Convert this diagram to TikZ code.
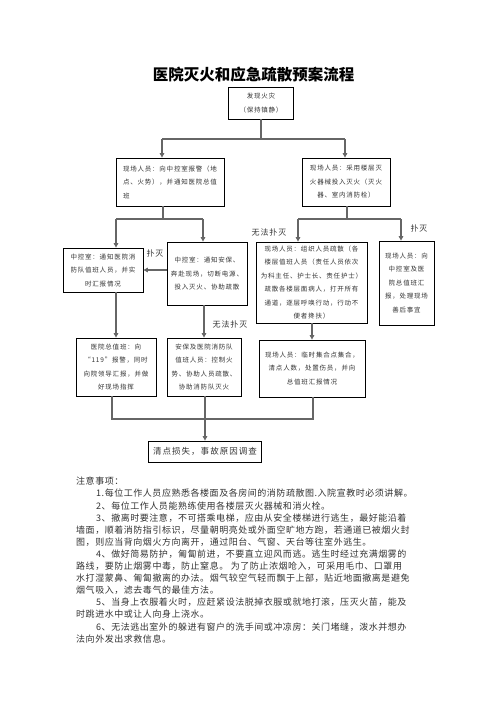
\documentclass[tikz,border=0pt]{standalone}
\usepackage{fontspec}
\setmainfont{Noto Sans CJK SC}
\newfontfamily\boxfont[LetterSpace=12]{Noto Sans CJK SC}
\newfontfamily\notefont[LetterSpace=6]{Noto Sans CJK SC}
\usetikzlibrary{arrows.meta}
\tikzstyle{bx}=[draw,line width=0.8pt,inner sep=1pt,align=center,text=black!80,font={\boxfont\fontsize{6.5}{13.5}\selectfont}]
\tikzstyle{ln}=[line width=1.3pt,draw=black!60]
\tikzstyle{ar}=[ln,-{Triangle[length=4.5pt,width=4.5pt]}]
\tikzstyle{lb}=[inner sep=0,text=black!80,font={\boxfont\fontsize{8}{10}\selectfont}]

\begin{document}
\begin{tikzpicture}[x=1pt,y=-1pt]
\useasboundingbox[fill=white] (0,0) rectangle (496,702);

	\node[inner sep=0,font={\fontsize{15.5}{18}\selectfont\bfseries}] (t) at (253.5,75) {医院灭火和应急疏散预案流程};

                        \node[bx,minimum width=65pt,minimum height=32pt] (a) at (261,103) {发现火灾\\（保持镇静）};
                        \node[bx,align=left,minimum width=108pt,minimum height=48pt] (b) at (170,182) {现场人员：向中控室报警（地\\点、火势），并通知医院总值\\班};
                        \node[bx,minimum width=88pt,minimum height=48pt] (c) at (346,182) {现场人员：采用楼层灭\\火器械投入灭火（灭火\\器、室内消防栓）};

                        \node[bx,minimum width=80pt,minimum height=44pt] (d) at (103,270) {中控室：通知医院消\\防队值班人员，并实\\时汇报情况};
                        \node[bx,minimum width=80pt,minimum height=63pt] (e) at (207,273.5) {中控室：通知安保、\\奔赴现场，切断电源、\\投入灭火、协助疏散};
                        \node[bx,minimum width=111pt,minimum height=81pt] (f) at (311.5,282.5) {现场人员：组织人员疏散（各\\楼层值班人员（责任人员依次\\为科主任、护士长、责任护士）\\疏散各楼层面病人，打开所有\\通道，逐层呼唤行动，行动不\\便者搀扶）};
                        \node[bx,minimum width=55pt,minimum height=84pt] (g) at (406.5,283) {现场人员：向\\中控室及医\\院总值班汇\\报，处理现场\\善后事宜};

                        \node[bx,minimum width=80pt,minimum height=58pt] (h) at (116,367) {医院总值班：向\\“119”报警，同时\\向院领导汇报，并做\\好现场指挥};
                        \node[bx,minimum width=74pt,minimum height=58pt] (i) at (204,367) {安保及医院消防队\\值班人员：控制火\\势、协助人员疏散、\\协助消防队灭火};
                        \node[bx,minimum width=106pt,minimum height=57pt] (j) at (312,368.5) {现场人员：临时集合点集合，\\清点人数，处置伤员，并向\\总值班汇报情况};

                        \node[bx,font={\boxfont\fontsize{8.5}{10}\selectfont},minimum width=113pt,minimum height=21pt] (k) at (205,451.5) {清点损失，事故原因调查};

                        \node[lb] (l1) at (155,253) {扑灭};
                        \node[lb] (l2) at (269,232) {无法扑灭};
                        \node[lb] (l3) at (419,228) {扑灭};
                        \node[lb] (l4) at (230,324) {无法扑灭};

                        \coordinate (s1) at (261,139);
                        \coordinate (s1l) at (162,139);
                        \coordinate (s1r) at (345,139);
                        \coordinate (s2) at (163,219);
                        \coordinate (s2l) at (116,219);
                        \coordinate (s2r) at (203,219);
                        \coordinate (s3) at (347,219);
                        \coordinate (s3l) at (298,219);
                        \coordinate (s3r) at (401,219);
                        \coordinate (m1) at (112,419);
                        \coordinate (m2) at (205,419);
                        \coordinate (m3) at (313,419);

                        \draw[ln]
                        (a) -- (s1)
                        (s1l) -- (s1r)
                        (s2 |- b.south) -- (s2)
                        (s2l) -- (s2r)
                        (s3 |- c.south) -- (s3)
                        (s3l) -- (s3r)
                        (m1 |- h.south) -- (m1) -- (m3) -- (m3 |- j.south)
                        (m2 |- i.south) -- (m2)
                        ;

                        \draw[ar] (s1l) -- (s1l |- b.north);
                        \draw[ar] (s1r) -- (s1r |- c.north);
                        \draw[ar] (s2l) -- (s2l |- d.north);
                        \draw[ar] (s2r) -- (s2r |- e.north);
                        \draw[ar] (s3l) -- (s3l |- f.north);
                        \draw[ar] (s3r) -- (s3r |- g.north);
                        \draw[ar] (e.west |- d) -- (d.east);
                        \draw[ar] (d.south -| h) -- (h.north);
                        \draw[ar] (e.south -| i) -- (i.north);
                        \draw[ar] (f.south -| j) -- (j.north);
                        \draw[ar] (m2) -- (k.north);

                        \node[anchor=north west,inner sep=0,align=left,text=black!80,font={\notefont\fontsize{9}{12.1}\selectfont}] (n) at (76,477) {注意事项：\\
\hspace*{20pt}1.每位工作人员应熟悉各楼面及各房间的消防疏散图.入院宣教时必须讲解。\\
\hspace*{20pt}2、每位工作人员能熟练使用各楼层灭火器械和消火栓。\\
\hspace*{20pt}3、撤离时要注意，不可搭乘电梯，应由从安全楼梯进行逃生，最好能沿着\\
墙面，顺着消防指引标识，尽量朝明亮处或外面空旷地方跑，若通道已被烟火封\\
图，则应当背向烟火方向离开，通过阳台、气窗、天台等往室外逃生。\\
\hspace*{20pt}4、做好简易防护，匍匐前进，不要直立迎风而逃。逃生时经过充满烟雾的\\
路线，要防止烟雾中毒，防止窒息。 为了防止浓烟呛入，可采用毛巾、口罩用\\
水打湿蒙鼻、匍匐撤离的办法。烟气较空气轻而飘于上部，贴近地面撤离是避免\\
烟气吸入，滤去毒气的最佳方法。\\
\hspace*{20pt}5、当身上衣服着火时，应赶紧设法脱掉衣服或就地打滚，压灭火苗，能及\\
时跳进水中或让人向身上浇水。\\
\hspace*{20pt}6、无法逃出室外的躲进有窗户的洗手间或冲凉房：关门堵缝，泼水并想办\\
法向外发出求救信息。};

    \end{tikzpicture}
\end{document}
